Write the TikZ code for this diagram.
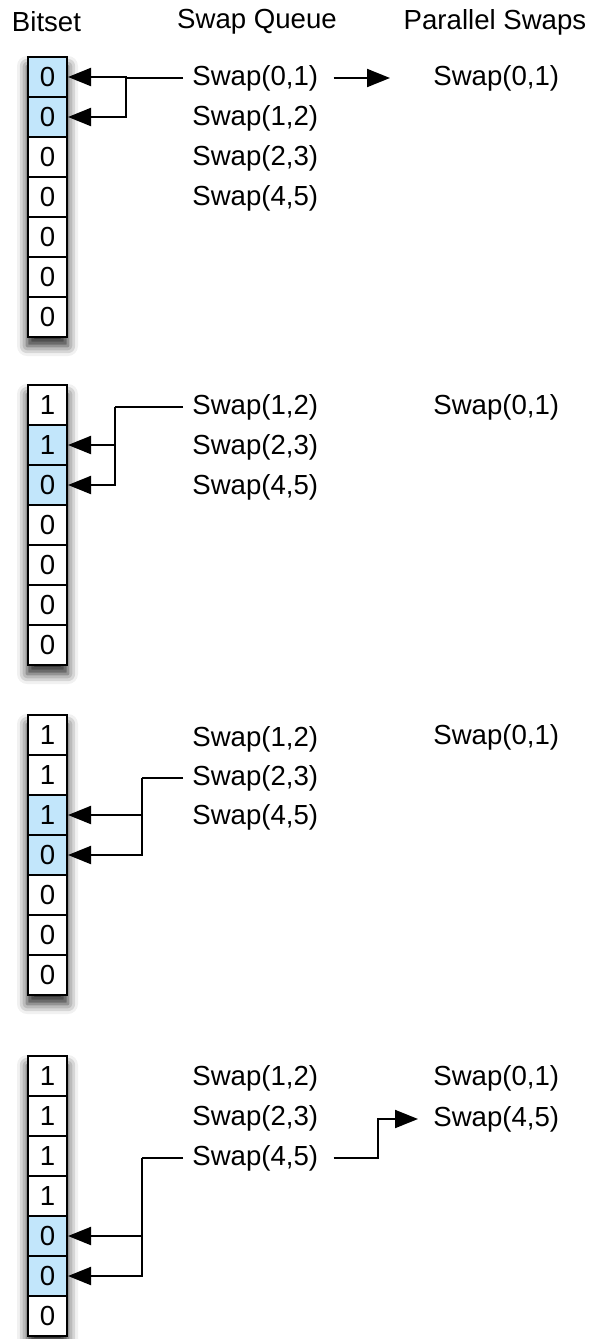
\documentclass[tikz,border=0pt]{standalone}
\usepackage{fontspec}
\setmainfont{Liberation Sans}
\usepackage{tikz}
\usetikzlibrary{arrows.meta,shadows.blur}
\definecolor{bitblue}{RGB}{194,230,251}
\tikzstyle{bit}=[rectangle, draw=black, fill=white, line width=1pt,% one cell of the bitset
minimum width=19.5pt, minimum height=20pt, inner sep=0pt]
\tikzstyle{bitsel}=[bit, fill=bitblue]
\tikzstyle{swap}=[anchor=west, inner sep=4.5pt]
\tikzstyle{wire}=[line width=1pt, draw=black]
\tikzstyle{link}=[wire, -{Triangle[length=11.5pt,width=9pt,fill=black]}]
\tikzstyle{colshadow}=[fill=white, blur shadow={shadow xshift=0pt, shadow yshift=-4.5pt,%
shadow blur radius=5pt, shadow opacity=85}]

\begin{document}
\begin{tikzpicture}[x=0.5pt, y=-0.5pt, font=\fontsize{13.8}{16}\selectfont]
\useasboundingbox (0,0) rectangle (592,1339);
% headers
\node (hbit) at (46.5,22) {Bitset};
\node (hqueue) at (257,22) {Swap Queue};
\node (hpar) at (495,22) {Parallel Swaps};
% step 1
\path[colshadow] (27,57) rectangle (68,337);
\node[bitsel] (b11) at (47.5,77) {0};
\node[bitsel] (b12) at (47.5,117) {0};
\node[bit] (b13) at (47.5,157) {0};
\node[bit] (b14) at (47.5,197) {0};
\node[bit] (b15) at (47.5,237) {0};
\node[bit] (b16) at (47.5,277) {0};
\node[bit] (b17) at (47.5,317) {0};
\node[swap] (q1a) at (183,78) {Swap(0,1)};
\node[swap] (q1b) at (183,118) {Swap(1,2)};
\node[swap] (q1c) at (183,158) {Swap(2,3)};
\node[swap] (q1d) at (183,198) {Swap(4,5)};
\node[swap] (p1a) at (424,78) {Swap(0,1)};
\coordinate (j1) at (126,78);
\draw[wire] (q1a.west) -- (j1);
\draw[link] (j1) |- (b11.east);
\draw[link] (j1) |- (b12.east);
\draw[link, shorten <=3pt, shorten >=17pt] (q1a.east) -- (p1a.west);
% step 2
\path[colshadow] (27,385) rectangle (68,665);
\node[bit] (b21) at (47.5,405) {1};
\node[bitsel] (b22) at (47.5,445) {1};
\node[bitsel] (b23) at (47.5,485) {0};
\node[bit] (b24) at (47.5,525) {0};
\node[bit] (b25) at (47.5,565) {0};
\node[bit] (b26) at (47.5,605) {0};
\node[bit] (b27) at (47.5,645) {0};
\node[swap] (q2a) at (183,407) {Swap(1,2)};
\node[swap] (q2b) at (183,447) {Swap(2,3)};
\node[swap] (q2c) at (183,487) {Swap(4,5)};
\node[swap] (p2a) at (424,407) {Swap(0,1)};
\coordinate (j2) at (115,407);
\draw[wire] (q2a.west) -- (j2);
\draw[link] (j2) |- (b22.east);
\draw[link] (j2) |- (b23.east);
% step 3
\path[colshadow] (27,715) rectangle (68,995);
\node[bit] (b31) at (47.5,735) {1};
\node[bit] (b32) at (47.5,775) {1};
\node[bitsel] (b33) at (47.5,815) {1};
\node[bitsel] (b34) at (47.5,855) {0};
\node[bit] (b35) at (47.5,895) {0};
\node[bit] (b36) at (47.5,935) {0};
\node[bit] (b37) at (47.5,975) {0};
\node[swap] (q3a) at (183,739) {Swap(1,2)};
\node[swap] (q3b) at (183,778) {Swap(2,3)};
\node[swap] (q3c) at (183,817) {Swap(4,5)};
\node[swap] (p3a) at (424,737) {Swap(0,1)};
\coordinate (j3) at (142,778);
\draw[wire] (q3b.west) -- (j3);
\draw[link] (j3) |- (b33.east);
\draw[link] (j3) |- (b34.east);
% step 4
\path[colshadow] (27,1056) rectangle (68,1336);
\node[bit] (b41) at (47.5,1076) {1};
\node[bit] (b42) at (47.5,1116) {1};
\node[bit] (b43) at (47.5,1156) {1};
\node[bit] (b44) at (47.5,1196) {1};
\node[bitsel] (b45) at (47.5,1236) {0};
\node[bitsel] (b46) at (47.5,1276) {0};
\node[bit] (b47) at (47.5,1316) {0};
\node[swap] (q4a) at (183,1078) {Swap(1,2)};
\node[swap] (q4b) at (183,1118) {Swap(2,3)};
\node[swap] (q4c) at (183,1158) {Swap(4,5)};
\node[swap] (p4a) at (424,1078) {Swap(0,1)};
\node[swap] (p4b) at (424,1119) {Swap(4,5)};
\coordinate (j4) at (142,1158);
\draw[wire] (q4c.west) -- (j4);
\draw[link] (j4) |- (b45.east);
\draw[link] (j4) |- (b46.east);
\coordinate (j5) at (378,1158);
\draw[link, shorten <=3pt, shorten >=3pt] (q4c.east) -- (j5) |- (p4b.west);
\end{tikzpicture}
\end{document}
